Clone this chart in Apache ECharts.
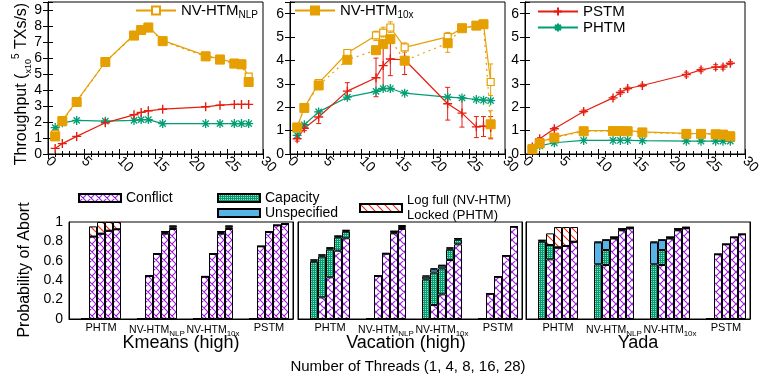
<!DOCTYPE html>
<html><head><meta charset="utf-8">
<script src="https://cdn.jsdelivr.net/npm/echarts@6/dist/echarts.min.js"></script>
<style>html,body{margin:0;padding:0;background:#fff}#c{width:774px;height:382px}</style>
</head><body><div id="c"></div>
<script>
const ORANGE='#e69f00', RED='#e51e10', GREEN='#009e73', BLUE='#56b4e9', PURPLE='#9a1fe0';
const FONT='Liberation Sans, Arial, sans-serif';

// ---- throughput data (x10^5 TXs/s) ----
const threads=[1,2,4,8,12,13,14,16,22,24,26,27,28];
const xTicks=[0,5,10,15,20,25,30];
// Kmeans (high)
const kmNLP =[1.25,2.1,3.3,5.75,7.45,7.75,7.95,7.1,6.15,5.95,5.7,5.65,4.83];
const km10x =[1.1,2.05,3.25,5.75,7.4,7.75,7.9,7.05,6.1,5.9,5.65,5.6,4.5];
const kmPSTM=[0.35,0.65,1.1,1.95,2.45,2.6,2.7,2.8,2.95,3.05,3.1,3.1,3.1];
const kmPHTM=[1.65,1.95,2.1,2.05,2.1,2.15,2.15,1.9,1.9,1.9,1.9,1.9,1.9];
// Vacation (high)
const vaNLP =[1.16,1.98,3.03,4.32,5.07,5.19,5.41,4.56,5.01,5.38,5.48,5.55,3.08];
const va10x =[1.13,1.97,2.93,4.03,4.44,4.7,4.91,3.99,4.74,5.38,5.49,5.55,1.27];
const vaPSTM=[0.65,1.1,1.58,2.69,3.26,3.78,4.06,4.03,2.15,1.75,1.16,1.19,1.13];
const vaPHTM=[0.8,1.25,1.8,2.43,2.68,2.8,2.8,2.6,2.43,2.4,2.33,2.3,2.28];
const vaNLPlo =[1.1,1.9,2.95,4.2,4.85,5.0,5.2,4.35,4.85,5.33,5.43,5.5,2.5];
const vaNLPhi =[1.25,2.05,3.12,4.45,5.25,5.42,5.65,4.75,5.2,5.43,5.53,5.6,3.85];
const va10xlo =[1.08,1.92,2.88,3.98,4.39,4.65,4.86,3.94,4.35,5.33,5.44,5.5,0.7];
const va10xhi =[1.18,2.02,2.98,4.08,4.49,4.75,4.96,4.04,5.0,5.43,5.54,5.6,1.85];
const vaPSTMlo=[0.55,1.0,1.3,2.35,2.45,2.75,3.35,3.4,1.45,1.15,0.7,0.75,0.65];
const vaPSTMhi=[0.8,1.25,1.8,3.05,4.1,4.65,4.75,4.45,2.85,2.4,1.6,1.6,1.6];
// Yada
const yaNLP =[0.25,0.5,0.72,1.0,1.0,1.0,1.0,0.95,0.88,0.87,0.86,0.85,0.8];
const ya10x =[0.2,0.45,0.7,0.97,0.98,0.98,0.97,0.92,0.86,0.86,0.84,0.83,0.75];
const yaPSTM=[0.3,0.65,1.08,1.82,2.4,2.63,2.8,2.93,3.4,3.6,3.72,3.72,3.88];
const yaPHTM=[0.25,0.35,0.48,0.58,0.58,0.58,0.58,0.57,0.55,0.55,0.55,0.55,0.55];
const yaPSTMlo=[0.28,0.6,1.02,1.76,2.34,2.56,2.74,2.88,3.3,3.52,3.62,3.63,3.82];
const yaPSTMhi=[0.33,0.7,1.14,1.88,2.46,2.7,2.86,2.99,3.5,3.68,3.82,3.8,3.95];

// ---- abort probability data: groups PHTM, NV-HTM_NLP, NV-HTM_10x, PSTM; threads 1,4,8,16,28 ----
const barGroups=['PHTM','NV-HTM_NLP','NV-HTM_10x','PSTM'];
const barThreads=[1,4,8,16,28];
const kmConflict=[0,0.85,0.88,0.91,0.925, 0,0.443,0.672,0.88,0.928, 0,0.436,0.672,0.88,0.928, 0,0.749,0.897,0.966,0.979];
const kmCapacity=[0,0,0,0,0, 0,0,0,0.008,0.015, 0,0,0,0.008,0.015, 0,0,0,0,0];
const kmUnspec  =[0,0,0,0,0, 0,0,0,0.012,0.012, 0,0,0,0.012,0.012, 0,0,0,0,0];
const kmLogfull =[0,0.105,0.12,0.09,0.075, 0.008,0.006,0.006,0.004,0.007, 0.006,0.006,0.006,0.004,0.007, 0,0,0,0,0];
const vaConflict=[0,0.223,0.43,0.704,0.832, 0,0.443,0.674,0.883,0.928, 0,0.144,0.254,0.608,0.77, 0,0.261,0.436,0.653,0.952];
const vaCapacity=[0.591,0.42,0.288,0.138,0.068, 0,0,0,0.008,0.02, 0.409,0.334,0.268,0.107,0.048, 0,0,0,0,0];
const vaUnspec  =[0.012,0.012,0.012,0.01,0.01, 0,0,0,0.012,0.01, 0.027,0.034,0.028,0.012,0.01, 0,0,0,0,0];
const vaLogfull =[0.012,0.012,0.009,0.007,0.008, 0.007,0.007,0.006,0.004,0.008, 0.014,0.01,0.007,0.012,0.004, 0,0,0,0,0];
const yaConflict=[0,0.615,0.735,0.753,0.797, 0,0.557,0.83,0.914,0.935, 0,0.557,0.83,0.914,0.935, 0,0.667,0.77,0.842,0.873];
const yaCapacity=[0.797,0.148,0,0,0, 0.564,0.154,0.006,0.006,0.004, 0.564,0.154,0.006,0.006,0.004, 0,0,0,0,0];
const yaUnspec  =[0.012,0,0.005,0,0, 0.226,0.103,0.009,0.01,0.005, 0.226,0.103,0.009,0.01,0.005, 0,0,0,0,0];
const yaLogfull =[0.005,0.12,0.208,0.195,0.151, 0.007,0.004,0,0,0.004, 0.007,0.004,0,0,0.004, 0,0,0,0,0];
const yTicksAbort=[0,0.2,0.4,0.6,0.8,1];

// ---- patterns ----
function mkPattern(w,h,draw){const c=document.createElement('canvas');c.width=w;c.height=h;const g=c.getContext('2d');draw(g,w,h);return {image:c,repeat:'repeat'};}
const patConflict=mkPattern(8,8,g=>{g.fillStyle='#fff';g.fillRect(0,0,8,8);g.strokeStyle=PURPLE;g.lineWidth=1.1;g.beginPath();
  [-8,0,8].forEach(o=>{g.moveTo(o,0);g.lineTo(o+8,8);g.moveTo(o+8,0);g.lineTo(o,8);});g.stroke();});
const patCapacity=mkPattern(2,2,g=>{g.fillStyle=GREEN;g.fillRect(0,0,2,2);g.fillStyle='#9fdcc6';g.fillRect(1,1,1,1);});
const patLogfull=mkPattern(8,8,g=>{g.fillStyle='#fff';g.fillRect(0,0,8,8);g.strokeStyle='#f02a10';g.lineWidth=1.1;g.beginPath();
  [-8,0,8].forEach(o=>{g.moveTo(o,0);g.lineTo(o+8,8);});g.stroke();});

const PLUS='path://M5,0V10M0,5H10';
const STAR='path://M5,0V10M0,5H10M1.5,1.5L8.5,8.5M8.5,1.5L1.5,8.5';

const grid=[
 {left:48,top:2,width:215,height:152},
 {left:290,top:2,width:215,height:152},
 {left:525,top:2,width:220,height:152},
 {left:69,top:222,width:224,height:97},
 {left:298,top:222,width:224,height:97},
 {left:526,top:222,width:224,height:97}
].map(g=>Object.assign({show:true,borderColor:'#000',borderWidth:1,backgroundColor:'transparent'},g));

const AX={lineStyle:{color:'#000',width:1}};
const xAxis=[], yAxis=[];
[0,1,2].forEach(g=>{
  const base={type:'value',gridIndex:g,min:xTicks[0],max:xTicks[xTicks.length-1],interval:xTicks[1]-xTicks[0],
    axisLine:Object.assign({show:true},AX),axisTick:{inside:true,length:5,lineStyle:{color:'#000'}},
    minorTick:{show:true,splitNumber:5,length:3,lineStyle:{color:'#000'}},splitLine:{show:false}};
  xAxis.push(Object.assign({},base,{position:'bottom',axisLabel:{rotate:-45,fontSize:14,color:'#000',margin:5,fontFamily:FONT}}));
  xAxis.push(Object.assign({},base,{position:'top',axisLabel:{show:false}}));
  const ymax=g===0?9.5:6.5;
  const yb={type:'value',gridIndex:g,min:0,max:ymax,interval:1,axisLine:Object.assign({show:true},AX),
    axisTick:{inside:true,length:5,lineStyle:{color:'#000'}},splitLine:{show:false}};
  yAxis.push(Object.assign({},yb,{position:'left',axisLabel:{fontSize:14,color:'#000',margin:6,fontFamily:FONT,
    formatter:v=>Number.isInteger(v)?String(v):''}}));
  yAxis.push(Object.assign({},yb,{position:'right',axisLabel:{show:false}}));
});
// category slots for the histogram panels
const NSLOT=29;
const slotOf=i=>2+7*Math.floor(i/5)+(i%5);
const slotCats=Array.from({length:NSLOT},(_,i)=>'s'+i);
const slotLabels=Array(NSLOT).fill('');
const richLab={PHTM:'PHTM','NV-HTM_NLP':'{m|NV-HTM}{s|NLP}','NV-HTM_10x':'{m|NV-HTM}{s|10x}',PSTM:'PSTM'};
barGroups.forEach((gname,g)=>{slotLabels[slotOf(g*5+2)]=richLab[gname];});
[3,4,5].forEach((g,k)=>{
  xAxis.push({type:'category',gridIndex:g,data:slotCats,boundaryGap:false,axisLine:Object.assign({show:true},AX),
    axisTick:{show:false},splitLine:{show:false},
    axisLabel:{interval:0,margin:3,color:'#000',fontSize:11,fontFamily:FONT,formatter:(v,i)=>slotLabels[i],
      rich:{m:{fontSize:10.5,lineHeight:16,fontFamily:FONT,color:'#000'},s:{fontSize:8,lineHeight:8,verticalAlign:'bottom',fontFamily:FONT,color:'#000'}}}});
  const yb={type:'value',gridIndex:g,min:yTicksAbort[0],max:yTicksAbort[yTicksAbort.length-1],interval:0.2,
    axisLine:Object.assign({show:true},AX),axisTick:{inside:true,length:4,lineStyle:{color:'#000'}},splitLine:{show:false}};
  yAxis.push(Object.assign({},yb,{position:'left',axisLabel:{show:k===0,fontSize:14,color:'#000',margin:6,fontFamily:FONT,
    formatter:v=>(v===0||v===1)?String(v):v.toFixed(1)}}));
  yAxis.push(Object.assign({},yb,{position:'right',axisLabel:{show:false}}));
});

const pts=arr=>threads.map((t,i)=>[t,arr[i]]);
function lineS(name,g,arr,style){
  return Object.assign({type:'line',name,xAxisIndex:2*g,yAxisIndex:2*g,data:pts(arr),showAllSymbol:true,z:3},style);
}
const sNLP={symbol:'rect',symbolSize:7,itemStyle:{color:'#fff',borderColor:ORANGE,borderWidth:1.2},lineStyle:{color:ORANGE,width:1.2}};
const s10x={symbol:'rect',symbolSize:9,itemStyle:{color:ORANGE,borderColor:ORANGE,borderWidth:1},lineStyle:{color:ORANGE,width:1.2,type:[2,4]}};
const sPSTM={symbol:PLUS,symbolSize:9,itemStyle:{color:RED,borderColor:RED,borderWidth:1.4},lineStyle:{color:RED,width:1.2}};
const sPHTM={symbol:STAR,symbolSize:9,itemStyle:{color:GREEN,borderColor:GREEN,borderWidth:1.3},lineStyle:{color:GREEN,width:1.2}};
function errS(name,g,lo,hi,color){
  return {type:'custom',name,xAxisIndex:2*g,yAxisIndex:2*g,z:3,silent:true,
    data:threads.map((t,i)=>[t,lo[i],hi[i]]),encode:{x:0,y:[1,2]},
    renderItem:(p,api)=>{const x=api.value(0);const a=api.coord([x,api.value(1)]);const b=api.coord([x,api.value(2)]);const w=2.5;
      const st={stroke:color,lineWidth:1};
      return {type:'group',children:[
        {type:'line',shape:{x1:a[0],y1:a[1],x2:b[0],y2:b[1]},style:st},
        {type:'line',shape:{x1:a[0]-w,y1:a[1],x2:a[0]+w,y2:a[1]},style:st},
        {type:'line',shape:{x1:b[0]-w,y1:b[1],x2:b[0]+w,y2:b[1]},style:st}]};}};
}
const series=[];
const panels=[
  {g:0,nlp:kmNLP,x10:km10x,pstm:kmPSTM,phtm:kmPHTM},
  {g:1,nlp:vaNLP,x10:va10x,pstm:vaPSTM,phtm:vaPHTM,err:[[vaPSTMlo,vaPSTMhi,RED],[vaNLPlo,vaNLPhi,ORANGE],[va10xlo,va10xhi,ORANGE]]},
  {g:2,nlp:yaNLP,x10:ya10x,pstm:yaPSTM,phtm:yaPHTM,err:[[yaPSTMlo,yaPSTMhi,RED]]}
];
panels.forEach(P=>{
  series.push(lineS('PHTM',P.g,P.phtm,sPHTM));
  (P.err||[]).forEach((e,i)=>series.push(errS('err'+P.g+'_'+i,P.g,e[0],e[1],e[2])));
  series.push(lineS('PSTM',P.g,P.pstm,sPSTM));
  series.push(lineS('NV-HTM_NLP',P.g,P.nlp,sNLP));
  series.push(lineS('NV-HTM_10x',P.g,P.x10,s10x));
});
const expand=vals=>{const out=Array(NSLOT).fill('-');vals.forEach((v,i)=>{out[slotOf(i)]=v;});return out;};
const barSets=[
  [kmConflict,kmCapacity,kmUnspec,kmLogfull],
  [vaConflict,vaCapacity,vaUnspec,vaLogfull],
  [yaConflict,yaCapacity,yaUnspec,yaLogfull]];
const barNames=['Conflict','Capacity','Unspecified','Log full'];
const barColors=[patConflict,patCapacity,BLUE,patLogfull];
barSets.forEach((set,k)=>{
  set.forEach((vals,j)=>{
    series.push({type:'bar',name:barNames[j],xAxisIndex:6+k,yAxisIndex:6+2*k,stack:'ab'+k,barWidth:8,
      data:expand(vals),itemStyle:{color:barColors[j],borderColor:'#000',borderWidth:1},z:2});
  });
});

const legRich={m:{fontSize:15,lineHeight:20,fontFamily:FONT,color:'#000'},s:{fontSize:10,lineHeight:10,verticalAlign:'bottom',fontFamily:FONT,color:'#000'}};
const legFmt=n=>n==='NV-HTM_NLP'?'{m|NV-HTM}{s|NLP}':n==='NV-HTM_10x'?'{m|NV-HTM}{s|10x}':n;
const legBase={padding:0,selectedMode:false,itemWidth:40,itemHeight:10,textStyle:{fontSize:15,color:'#000',fontFamily:FONT,rich:legRich},formatter:legFmt};
const barLeg={padding:0,selectedMode:false,icon:'rect',itemWidth:42,itemHeight:8,textStyle:{fontSize:14,color:'#000',fontFamily:FONT}};
const legend=[
  Object.assign({},legBase,{data:['NV-HTM_NLP'],left:135,top:3}),
  Object.assign({},legBase,{data:['NV-HTM_10x'],left:294,top:3,lineStyle:{type:'solid'}}),
  Object.assign({},legBase,{data:['PSTM','PHTM'],left:537,top:4,orient:'vertical',itemGap:1}),
  Object.assign({},barLeg,{data:['Conflict'],left:78,top:191}),
  Object.assign({},barLeg,{data:['Capacity','Unspecified'],left:217,top:191,orient:'vertical',itemGap:1}),
  Object.assign({},barLeg,{data:['Log full'],left:359,top:193,formatter:()=>'Log full (NV-HTM)\nLocked (PHTM)',
    textStyle:{fontSize:13,lineHeight:15,color:'#000',fontFamily:FONT}})
];

const txt=(t,x,y,size,rot)=>({type:'text',x,y,rotation:rot||0,silent:true,
  style:{text:t,fontSize:size,fontFamily:FONT,fill:'#000',textAlign:'center',textVerticalAlign:'middle'}});
const graphic=[
  {type:'text',x:22,y:84,rotation:Math.PI/2,silent:true,style:{text:'{a|Throughput (}{s|x10}{p|5}{a| TXs/s)}',
    textAlign:'center',textVerticalAlign:'middle',fill:'#000',fontFamily:FONT,
    rich:{a:{fontSize:16,lineHeight:22,fontFamily:FONT,fill:'#000'},s:{fontSize:9,lineHeight:12,verticalAlign:'bottom',fontFamily:FONT,fill:'#000'},p:{fontSize:10,lineHeight:10,verticalAlign:'top',fontFamily:FONT,fill:'#000'}}}},
  txt('Probability of Abort',25,270,16,Math.PI/2),
  txt('Kmeans (high)',181,343,18),
  txt('Vacation (high)',406,343,18),
  txt('Yada',638,343,18),
  txt('Number of Threads (1, 4, 8, 16, 28)',408,367,15)
];

const chart=echarts.init(document.getElementById('c'),null,{renderer:'canvas'});
chart.setOption({animation:false,backgroundColor:'#fff',textStyle:{fontFamily:FONT},grid,xAxis,yAxis,legend,series,graphic});
</script></body></html>
